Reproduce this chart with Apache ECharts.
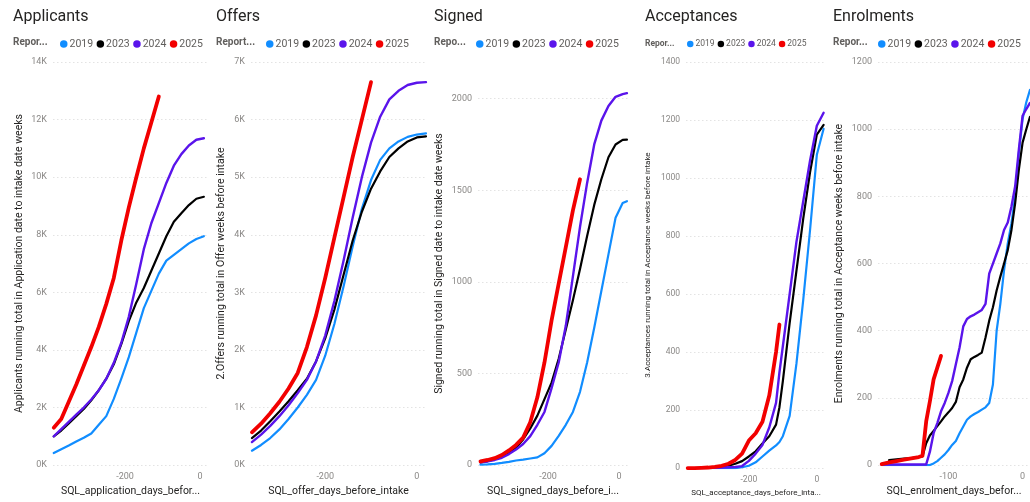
<!DOCTYPE html>
<html><head><meta charset="utf-8">
<script src="https://cdn.jsdelivr.net/npm/echarts@6/dist/echarts.min.js"></script>
<style>html,body{margin:0;padding:0;background:#fff}#c{width:1030px;height:502px}</style>
</head><body><div id="c"></div>
<script>
// ---------- DATA ----------
const years = ['2019', '2023', '2024', '2025'];

// Applicants
const appDays = [-390,-370,-350,-330,-310,-290,-270,-250,-230,-210,-190,-170,-150,-130,-110,-90,-70,-50,-30,-10,10];
const app2019 = [420,550,680,820,950,1100,1400,1700,2300,3000,3750,4600,5450,6050,6650,7100,7300,7500,7700,7850,7950];
const app2023 = [1000,1200,1450,1700,1950,2250,2600,3000,3500,4200,5000,5650,6150,6750,7350,7950,8450,8750,9030,9250,9320];
const app2024 = [1000,1250,1500,1750,2000,2280,2600,3000,3550,4250,5150,6300,7500,8400,9100,9800,10400,10800,11100,11300,11350];
const app2025 = [1300,1600,2200,2800,3450,4100,4800,5600,6500,7800,8950,10000,11000,11900,12800,null,null,null,null,null,null];

// Offers
const offDays = [-360,-340,-320,-300,-280,-260,-240,-220,-200,-180,-160,-140,-120,-100,-80,-60,-40,-20,0,20];
const off2019 = [250,350,470,620,800,1000,1220,1480,1900,2450,3100,3800,4450,4950,5300,5500,5620,5700,5740,5760];
const off2023 = [470,600,760,930,1110,1300,1500,1800,2200,2700,3300,3900,4400,4800,5100,5350,5500,5620,5690,5710];
const off2024 = [400,530,680,850,1040,1250,1480,1800,2250,2850,3550,4300,5000,5600,6050,6350,6500,6600,6640,6650];
const off2025 = [570,720,900,1100,1330,1600,2050,2600,3250,3950,4650,5350,6000,6650,null,null,null,null,null,null];

// Signed
const sigDays = [-390,-370,-350,-330,-310,-290,-270,-250,-230,-210,-190,-170,-150,-130,-110,-90,-70,-50,-30,-10,10,22];
const sig2019 = [2,4,7,12,18,25,30,36,42,65,105,160,220,290,400,560,750,950,1150,1350,1430,1440];
const sig2023 = [15,22,32,45,65,95,140,200,270,360,450,580,740,900,1070,1250,1420,1560,1680,1750,1775,1776];
const sig2024 = [15,20,28,40,60,85,115,158,220,290,420,560,760,1030,1300,1540,1750,1880,1960,2010,2025,2030];
const sig2025 = [20,28,38,55,80,110,150,234,370,560,790,990,1190,1390,1560,null,null,null,null,null,null,null];

// Acceptances
const accDays = [-380,-360,-340,-320,-300,-280,-260,-240,-220,-200,-180,-160,-140,-120,-110,-100,-80,-60,-40,-20,0,20];
const acc2019 = [0,0,0,0,0,0,0,0,3,8,20,40,60,78,90,110,180,360,580,820,1080,1170];
const acc2023 = [0,0,1,1,2,4,8,15,24,40,58,85,110,150,210,300,500,680,860,1020,1150,1183];
const acc2024 = [0,0,0,1,1,2,3,4,7,25,50,80,140,225,330,420,600,780,920,1060,1180,1225];
const acc2025 = [0,0,1,2,4,8,15,28,50,95,120,160,250,400,495,null,null,null,null,null,null,null];

// Enrolments
const enrDays = [-190,-180,-170,-160,-150,-140,-135,-130,-125,-120,-115,-110,-105,-100,-95,-90,-85,-80,-75,-70,-65,-60,-55,-50,-45,-40,-35,-30,-25,-20,-15,-10,-5,0,5,10];
const enr2019 = [0,0,0,0,0,0,0,0,0,5,12,22,32,45,60,72,95,115,135,145,152,158,165,172,185,240,400,480,580,660,720,800,930,1030,1080,1117];
const enr2023 = [null,15,17,19,21,24,26,65,88,102,116,130,145,157,170,188,232,255,290,315,322,328,335,380,430,470,520,561,600,640,700,780,880,960,1000,1037];
const enr2024 = [2,2,2,2,2,2,2,2,40,95,125,160,185,215,250,300,350,413,435,443,448,455,462,480,570,600,630,660,700,722,770,830,940,1040,1060,1078];
const enr2025 = [3,8,12,16,20,24,28,130,190,255,290,325,null,null,null,null,null,null,null,null,null,null,null,null,null,null,null,null,null,null,null,null,null,null,null,null];

// ---------- PANELS (text + layout) ----------
const panels = [
  { title: 'Applicants', legendLead: 'Repor...', yName: 'Applicants running total in Application date to intake date weeks',
    xName: 'SQL_application_days_befor...', days: appDays, vals: [app2019, app2023, app2024, app2025],
    grid: {left: 53, top: 62, width: 155, height: 404}, xMin: -392, xMax: 21, xLabels: [-200, 0],
    yMax: 14000, yInt: 2000, kFmt: true, yGap: 28, titleX: 13, leadX: 13, legX: 60, small: false },
  { title: 'Offers', legendLead: 'Report...', yName: '2.Offers running total in Offer weeks before intake',
    xName: 'SQL_offer_days_before_intake', days: offDays, vals: [off2019, off2023, off2024, off2025],
    grid: {left: 251, top: 62, width: 175, height: 404}, xMin: -362, xMax: 20, xLabels: [-200, 0],
    yMax: 7000, yInt: 1000, kFmt: true, yGap: 24, titleX: 216, leadX: 216, legX: 266, small: false },
  { title: 'Signed', legendLead: 'Repo...', yName: 'Signed running total in Signed date to intake date weeks',
    xName: 'SQL_signed_days_before_i...', days: sigDays, vals: [sig2019, sig2023, sig2024, sig2025],
    grid: {left: 478, top: 62, width: 150, height: 404}, xMin: -397, xMax: 25, xLabels: [-200, 0],
    yMax: 2200, yInt: 500, kFmt: false, hideTop: true, yGap: 33, titleX: 434, leadX: 434, legX: 476, small: false },
  { title: 'Acceptances', legendLead: 'Repor...', yName: '3.Acceptances running total in Acceptance weeks before intake',
    xName: 'SQL_acceptance_days_before_inta...', days: accDays, vals: [acc2019, acc2023, acc2024, acc2025],
    grid: {left: 686, top: 62, width: 140, height: 407}, xMin: -385, xMax: 27, xLabels: [-200, 0],
    yMax: 1400, yInt: 200, kFmt: false, yGap: 34, titleX: 645, leadX: 645, legX: 687, small: true },
  { title: 'Enrolments', legendLead: 'Repor...', yName: 'Enrolments running total in Acceptance weeks before intake',
    xName: 'SQL_enrolment_days_befor...', days: enrDays, vals: [enr2019, enr2023, enr2024, enr2025],
    grid: {left: 878, top: 62, width: 152, height: 404}, xMin: -195, xMax: 10, xLabels: [-100, 0],
    yMax: 1200, yInt: 200, kFmt: false, yGap: 33, titleX: 833, leadX: 833, legX: 878, small: false }
];

const colors = ['#118DFF', '#000000', '#5A14EB', '#F20000'];
const widths = [2.2, 2.2, 2.4, 3.8];
const FONT = 'Roboto, "Open Sans", sans-serif';
const gridColor = '#E3E3E3';

const option = {
  animation: false,
  backgroundColor: '#ffffff',
  textStyle: { fontFamily: FONT },
  title: [], legend: [], grid: [], xAxis: [], yAxis: [], series: [], graphic: []
};

panels.forEach((p, pi) => {
  const sm = p.small;
  option.title.push({
    text: p.title, left: p.titleX, top: 9, padding: 0,
    textStyle: { fontFamily: FONT, fontSize: 16, fontWeight: 'normal', color: '#252423' }
  });
  option.graphic.push({
    type: 'text', left: p.leadX, top: sm ? 39 : 37,
    style: { text: p.legendLead, fontFamily: FONT, fontSize: sm ? 8.5 : 10, fontWeight: 'bold', fill: '#605E5C' }
  });
  option.legend.push({
    data: years, left: p.legX, top: sm ? 39.5 : 38.5, padding: 0, icon: 'circle',
    itemWidth: sm ? 6.5 : 7.5, itemHeight: sm ? 6.5 : 7.5, itemGap: sm ? 3 : 3.5,
    textStyle: { fontFamily: FONT, fontSize: sm ? 8.5 : 10.5, color: '#605E5C', padding: [0, 0, 0, -3] }
  });
  option.grid.push(Object.assign({ containLabel: false }, p.grid));
  option.xAxis.push({
    type: 'value', gridIndex: pi, min: p.xMin, max: p.xMax,
    name: p.xName, nameLocation: 'middle', nameGap: sm ? 16 : 18,
    nameTextStyle: { fontFamily: FONT, fontSize: sm ? 8 : 10.5, color: '#252423' },
    axisLine: { show: false }, axisTick: { show: false }, splitLine: { show: false },
    axisLabel: { customValues: p.xLabels, fontSize: sm ? 8.5 : 9, color: '#8A8886', margin: 7, fontFamily: FONT }
  });
  const nLines = Math.floor(p.yMax / p.yInt) + 1 + (p.hideTop ? 1 : 0);
  const lineColors = [];
  for (let i = 0; i < nLines; i++) lineColors.push(p.hideTop && i === nLines - 1 ? 'rgba(0,0,0,0)' : gridColor);
  option.yAxis.push({
    type: 'value', gridIndex: pi, min: 0, max: p.yMax, interval: p.yInt,
    name: p.yName, nameLocation: 'middle', nameRotate: 90, nameGap: p.yGap,
    nameTextStyle: { fontFamily: FONT, fontSize: sm ? 8 : 10.5, color: '#252423' },
    axisLine: { show: false }, axisTick: { show: false },
    splitLine: { show: true, lineStyle: { color: lineColors, type: [1.5, 2.5], width: 1 } },
    axisLabel: {
      fontSize: sm ? 8.5 : 9, color: '#8A8886', margin: 6, fontFamily: FONT, showMaxLabel: !p.hideTop,
      formatter: p.kFmt ? (v => (v / 1000) + 'K') : (v => String(v))
    }
  });
  years.forEach((y, si) => {
    const data = [];
    p.days.forEach((d, i) => { const v = p.vals[si][i]; if (v !== null && v !== undefined) data.push([d, v]); });
    option.series.push({
      name: y, type: 'line', xAxisIndex: pi, yAxisIndex: pi, data: data,
      showSymbol: false, symbol: 'none', smooth: false, clip: true,
      lineStyle: { color: colors[si], width: widths[si], join: 'round', cap: 'round' },
      itemStyle: { color: colors[si] }, z: 2 + si
    });
  });
});

const chart = echarts.init(document.getElementById('c'), null, { renderer: 'canvas' });
chart.setOption(option);
</script>
</body></html>
